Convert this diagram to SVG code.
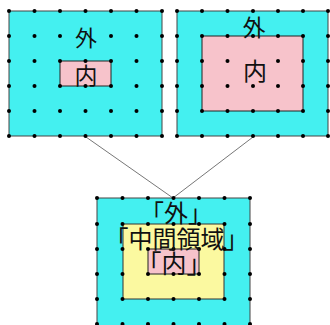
<svg xmlns="http://www.w3.org/2000/svg" width="330" height="325" viewBox="0 0 330 325">
<defs>
<style>
.cyan{fill:#44f0f0;stroke:#444;stroke-width:1}
.pink{fill:#f7c3cb;stroke:#222;stroke-width:1}
.yellow{fill:#fbf9a0;stroke:#333;stroke-width:1}
.t{font-family:"Noto Sans CJK JP","Noto Sans CJK SC",sans-serif;fill:#111;text-anchor:middle;dominant-baseline:central}
.conn{stroke:#777;stroke-width:1;fill:none}
</style>
</defs>
<rect width="330" height="325" fill="#fff"/>
<g id="connectors">
<line class="conn" x1="86" y1="137" x2="173" y2="198"/>
<line class="conn" x1="253" y1="137" x2="173" y2="198"/>
</g>
<g id="left-panel">
<rect class="cyan" x="9" y="11" width="153" height="125"/>
<rect class="pink" x="60" y="61" width="51" height="25"/>
<g fill="#000">
<circle cx="9" cy="11" r="2"/><circle cx="34.5" cy="11" r="2"/><circle cx="60" cy="11" r="2"/><circle cx="85.5" cy="11" r="2"/><circle cx="111" cy="11" r="2"/><circle cx="136.5" cy="11" r="2"/><circle cx="162" cy="11" r="2"/>
<circle cx="9" cy="36" r="2"/><circle cx="34.5" cy="36" r="2"/><circle cx="60" cy="36" r="2"/><circle cx="111" cy="36" r="2"/><circle cx="136.5" cy="36" r="2"/><circle cx="162" cy="36" r="2"/>
<circle cx="9" cy="61" r="2"/><circle cx="34.5" cy="61" r="2"/><circle cx="60" cy="61" r="2"/><circle cx="85.5" cy="61" r="2"/><circle cx="111" cy="61" r="2"/><circle cx="136.5" cy="61" r="2"/><circle cx="162" cy="61" r="2"/>
<circle cx="9" cy="86" r="2"/><circle cx="34.5" cy="86" r="2"/><circle cx="60" cy="86" r="2"/><circle cx="85.5" cy="86" r="2"/><circle cx="111" cy="86" r="2"/><circle cx="136.5" cy="86" r="2"/><circle cx="162" cy="86" r="2"/>
<circle cx="9" cy="111" r="2"/><circle cx="34.5" cy="111" r="2"/><circle cx="60" cy="111" r="2"/><circle cx="85.5" cy="111" r="2"/><circle cx="111" cy="111" r="2"/><circle cx="136.5" cy="111" r="2"/><circle cx="162" cy="111" r="2"/>
<circle cx="9" cy="136" r="2"/><circle cx="34.5" cy="136" r="2"/><circle cx="60" cy="136" r="2"/><circle cx="85.5" cy="136" r="2"/><circle cx="111" cy="136" r="2"/><circle cx="136.5" cy="136" r="2"/><circle cx="162" cy="136" r="2"/>
</g>
<text class="t" x="86" y="36" font-size="22">外</text>
<text class="t" x="86" y="74" font-size="23">内</text>
</g>
<g id="right-panel">
<rect class="cyan" x="177" y="11" width="151" height="125"/>
<rect class="pink" x="202" y="36" width="101" height="75"/>
<g fill="#000">
<circle cx="177" cy="11" r="2"/><circle cx="202" cy="11" r="2"/><circle cx="227.5" cy="11" r="2"/><circle cx="253" cy="11" r="2"/><circle cx="278" cy="11" r="2"/><circle cx="303" cy="11" r="2"/><circle cx="328" cy="11" r="2"/>
<circle cx="177" cy="36" r="2"/><circle cx="202" cy="36" r="2"/><circle cx="227.5" cy="36" r="2"/><circle cx="253" cy="36" r="2"/><circle cx="278" cy="36" r="2"/><circle cx="303" cy="36" r="2"/><circle cx="328" cy="36" r="2"/>
<circle cx="177" cy="61" r="2"/><circle cx="202" cy="61" r="2"/><circle cx="227.5" cy="61" r="2"/><circle cx="278" cy="61" r="2"/><circle cx="303" cy="61" r="2"/><circle cx="328" cy="61" r="2"/>
<circle cx="177" cy="86" r="2"/><circle cx="202" cy="86" r="2"/><circle cx="227.5" cy="86" r="2"/><circle cx="253" cy="86" r="2"/><circle cx="278" cy="86" r="2"/><circle cx="303" cy="86" r="2"/><circle cx="328" cy="86" r="2"/>
<circle cx="177" cy="111" r="2"/><circle cx="202" cy="111" r="2"/><circle cx="227.5" cy="111" r="2"/><circle cx="253" cy="111" r="2"/><circle cx="278" cy="111" r="2"/><circle cx="303" cy="111" r="2"/><circle cx="328" cy="111" r="2"/>
<circle cx="177" cy="136" r="2"/><circle cx="202" cy="136" r="2"/><circle cx="227.5" cy="136" r="2"/><circle cx="253" cy="136" r="2"/><circle cx="278" cy="136" r="2"/><circle cx="303" cy="136" r="2"/><circle cx="328" cy="136" r="2"/>
</g>
<text class="t" x="254" y="26" font-size="23">外</text>
<text class="t" x="255" y="69" font-size="24">内</text>
</g>
<g id="bottom-panel">
<rect class="cyan" x="97" y="198" width="153" height="130"/>
<rect class="yellow" x="123" y="224" width="101" height="75"/>
<rect class="pink" x="148" y="249" width="51" height="25"/>
<g fill="#000">
<circle cx="97" cy="198" r="2"/><circle cx="122.5" cy="198" r="2"/><circle cx="148" cy="198" r="2"/><circle cx="173.5" cy="198" r="2"/><circle cx="199" cy="198" r="2"/><circle cx="224.5" cy="198" r="2"/><circle cx="250" cy="198" r="2"/>
<circle cx="97" cy="224" r="2"/><circle cx="122.5" cy="224" r="2"/><circle cx="148" cy="224" r="2"/><circle cx="173.5" cy="224" r="2"/><circle cx="199" cy="224" r="2"/><circle cx="224.5" cy="224" r="2"/><circle cx="250" cy="224" r="2"/>
<circle cx="97" cy="249" r="2"/><circle cx="122.5" cy="249" r="2"/><circle cx="148" cy="249" r="2"/><circle cx="173.5" cy="249" r="2"/><circle cx="199" cy="249" r="2"/><circle cx="224.5" cy="249" r="2"/><circle cx="250" cy="249" r="2"/>
<circle cx="97" cy="274" r="2"/><circle cx="122.5" cy="274" r="2"/><circle cx="148" cy="274" r="2"/><circle cx="173.5" cy="274" r="2"/><circle cx="199" cy="274" r="2"/><circle cx="224.5" cy="274" r="2"/><circle cx="250" cy="274" r="2"/>
<circle cx="97" cy="299" r="2"/><circle cx="122.5" cy="299" r="2"/><circle cx="148" cy="299" r="2"/><circle cx="173.5" cy="299" r="2"/><circle cx="199" cy="299" r="2"/><circle cx="224.5" cy="299" r="2"/><circle cx="250" cy="299" r="2"/>
<circle cx="97" cy="324" r="2"/><circle cx="122.5" cy="324" r="2"/><circle cx="148" cy="324" r="2"/><circle cx="173.5" cy="324" r="2"/><circle cx="199" cy="324" r="2"/><circle cx="224.5" cy="324" r="2"/><circle cx="250" cy="324" r="2"/>
</g>
<text class="t" x="176" y="211" font-size="24">「外」</text>
<text class="t" x="176.5" y="237" font-size="24">「中間領域」</text>
<text class="t" x="174" y="262" font-size="25">「内」</text>
</g>
</svg>
